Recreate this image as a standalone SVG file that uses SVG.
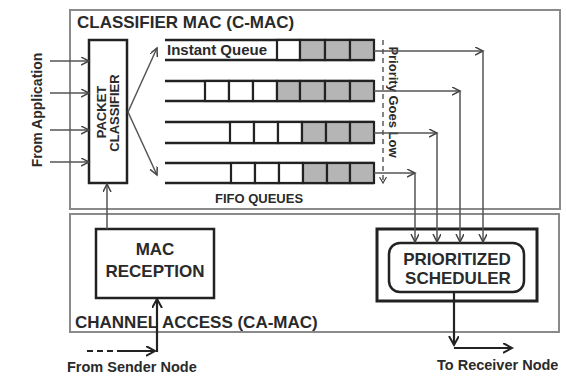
<svg xmlns="http://www.w3.org/2000/svg" width="566" height="376" viewBox="0 0 566 376">
<style>
  .frame{fill:none;stroke:#8a8a8a;stroke-width:2}
  .box{fill:#fff;stroke:#222;stroke-width:2.5}
  .qline{stroke:#222;stroke-width:2.5;fill:none}
  .cw{fill:#fff;stroke:#222;stroke-width:2.2}
  .cg{fill:#b5b5b5;stroke:#222;stroke-width:2.2}
  .con{fill:none;stroke:#555;stroke-width:1.5}
  .thick{fill:none;stroke:#222;stroke-width:2.2}
  .t{font-family:"Liberation Sans",Arial,sans-serif;font-weight:bold;fill:#2a2a2a}
</style>
<defs>
  <marker id="ah" markerWidth="10" markerHeight="10" refX="8" refY="4" orient="auto" markerUnits="userSpaceOnUse">
    <path d="M0,0 L8,4 L0,8" fill="none" stroke="#444" stroke-width="1.5"/>
  </marker>
  <marker id="ahk" markerWidth="12" markerHeight="12" refX="9" refY="5" orient="auto" markerUnits="userSpaceOnUse">
    <path d="M0,0 L9,5 L0,10" fill="none" stroke="#222" stroke-width="2"/>
  </marker>
  <marker id="ahs" markerWidth="8" markerHeight="8" refX="6" refY="3.5" orient="auto" markerUnits="userSpaceOnUse">
    <path d="M0,0 L6,3.5 L0,7" fill="none" stroke="#444" stroke-width="1.2"/>
  </marker>
</defs>

<g id="c-mac">
  <rect class="frame" x="70" y="10" width="490" height="199"/>
  <text class="t" x="77" y="28" font-size="17">CLASSIFIER MAC (C-MAC)</text>
</g>
<g id="ca-mac">
  <rect class="frame" x="70" y="214" width="489" height="118"/>
  <text class="t" x="75" y="328" font-size="17">CHANNEL ACCESS (CA-MAC)</text>
</g>

<g id="packet-classifier">
  <rect class="box" x="89" y="40" width="38" height="143"/>
  <text class="t" font-size="13" text-anchor="middle" transform="translate(106,112) rotate(-90)">PACKET</text>
  <text class="t" font-size="13" text-anchor="middle" transform="translate(119,113) rotate(-90)">CLASSIFIER</text>
</g>

<g id="from-application">
  <text class="t" font-size="14" text-anchor="middle" transform="translate(42,110) rotate(-90)">From Application</text>
</g>

<g id="queue-1">
  <line class="qline" x1="165" y1="40" x2="374" y2="40"/>
  <line class="qline" x1="165" y1="60" x2="374" y2="60"/>
  <rect class="cw" x="277" y="40" width="23" height="20"/>
  <rect class="cg" x="300" y="40" width="25" height="20"/>
  <rect class="cg" x="325" y="40" width="25" height="20"/>
  <rect class="cg" x="350" y="40" width="24" height="20"/>
  <text class="t" x="167" y="55" font-size="15">Instant Queue</text>
</g>
<g id="queue-2">
  <line class="qline" x1="165" y1="81" x2="374" y2="81"/>
  <line class="qline" x1="165" y1="101" x2="374" y2="101"/>
  <rect class="cw" x="205" y="81" width="24" height="20"/>
  <rect class="cw" x="229" y="81" width="24" height="20"/>
  <rect class="cw" x="253" y="81" width="24" height="20"/>
  <rect class="cg" x="277" y="81" width="23" height="20"/>
  <rect class="cg" x="300" y="81" width="25" height="20"/>
  <rect class="cg" x="325" y="81" width="25" height="20"/>
  <rect class="cg" x="350" y="81" width="24" height="20"/>
</g>
<g id="queue-3">
  <line class="qline" x1="165" y1="122" x2="374" y2="122"/>
  <line class="qline" x1="165" y1="143" x2="374" y2="143"/>
  <rect class="cw" x="230" y="122" width="24" height="21"/>
  <rect class="cw" x="254" y="122" width="24" height="21"/>
  <rect class="cw" x="278" y="122" width="24" height="21"/>
  <rect class="cg" x="302" y="122" width="24" height="21"/>
  <rect class="cg" x="326" y="122" width="24" height="21"/>
  <rect class="cg" x="350" y="122" width="24" height="21"/>
</g>
<g id="queue-4">
  <line class="qline" x1="165" y1="163" x2="374" y2="163"/>
  <line class="qline" x1="165" y1="183" x2="374" y2="183"/>
  <rect class="cw" x="231" y="163" width="24" height="20"/>
  <rect class="cw" x="255" y="163" width="24" height="20"/>
  <rect class="cw" x="279" y="163" width="24" height="20"/>
  <rect class="cg" x="303" y="163" width="24" height="20"/>
  <rect class="cg" x="327" y="163" width="23" height="20"/>
  <rect class="cg" x="350" y="163" width="24" height="20"/>
</g>
<g id="fifo-label">
  <text class="t" x="259" y="203" font-size="13" text-anchor="middle">FIFO QUEUES</text>
</g>

<g id="priority">
  <line x1="383" y1="40" x2="383" y2="183" stroke="#444" stroke-width="1.3" stroke-dasharray="5,4" marker-end="url(#ahs)"/>
  <text class="t" font-size="13" text-anchor="middle" transform="translate(389,102) rotate(90)">Priority Goes Low</text>
</g>

<g id="mac-reception">
  <rect class="box" x="96" y="229" width="118" height="69"/>
  <text class="t" x="155" y="255" font-size="17" text-anchor="middle">MAC</text>
  <text class="t" x="155" y="277" font-size="17" text-anchor="middle">RECEPTION</text>
</g>

<g id="prioritized-scheduler">
  <rect x="377" y="229" width="160" height="72" fill="#fff" stroke="#222" stroke-width="3"/>
  <rect x="389" y="243" width="135" height="49" rx="11" fill="#fff" stroke="#222" stroke-width="2.5"/>
  <text class="t" x="457" y="265" font-size="17" text-anchor="middle">PRIORITIZED</text>
  <text class="t" x="458" y="284" font-size="17" text-anchor="middle">SCHEDULER</text>
</g>

<g id="labels">
  <text class="t" x="67" y="372" font-size="14.5">From Sender Node</text>
  <text class="t" x="437" y="370" font-size="14.5">To Receiver Node</text>
</g>

<g id="connectors">
  <line class="con" x1="50" y1="61" x2="89" y2="61" marker-end="url(#ah)"/>
  <line class="con" x1="50" y1="93" x2="89" y2="93" marker-end="url(#ah)"/>
  <line class="con" x1="50" y1="130" x2="89" y2="130" marker-end="url(#ah)"/>
  <line class="con" x1="50" y1="162" x2="89" y2="162" marker-end="url(#ah)"/>
  <line class="con" x1="128" y1="112" x2="157" y2="48" marker-end="url(#ah)"/>
  <line class="con" x1="128" y1="112" x2="157" y2="175" marker-end="url(#ah)"/>
  <line class="con" x1="107" y1="229" x2="107" y2="184" marker-end="url(#ah)"/>

  <line class="con" x1="374" y1="51" x2="483" y2="51" marker-end="url(#ah)"/>
  <line class="con" x1="483" y1="51" x2="483" y2="242" marker-end="url(#ah)"/>
  <line class="con" x1="374" y1="91" x2="460" y2="91" marker-end="url(#ah)"/>
  <line class="con" x1="460" y1="91" x2="460" y2="242" marker-end="url(#ah)"/>
  <line class="con" x1="374" y1="133" x2="437" y2="133" marker-end="url(#ah)"/>
  <line class="con" x1="437" y1="133" x2="437" y2="242" marker-end="url(#ah)"/>
  <line class="con" x1="374" y1="173" x2="415" y2="173" marker-end="url(#ah)"/>
  <line class="con" x1="415" y1="173" x2="415" y2="242" marker-end="url(#ah)"/>

  <line class="thick" x1="454" y1="293" x2="454" y2="345" marker-end="url(#ahk)"/>
  <line class="thick" x1="454" y1="348" x2="512" y2="348" marker-end="url(#ahk)"/>

  <line class="thick" x1="87" y1="351" x2="120" y2="351" stroke-dasharray="6,4"/>
  <line class="thick" x1="120" y1="351" x2="155" y2="351" marker-end="url(#ahk)"/>
  <line class="thick" x1="157" y1="352" x2="157" y2="299" marker-end="url(#ahk)"/>
</g>
</svg>
